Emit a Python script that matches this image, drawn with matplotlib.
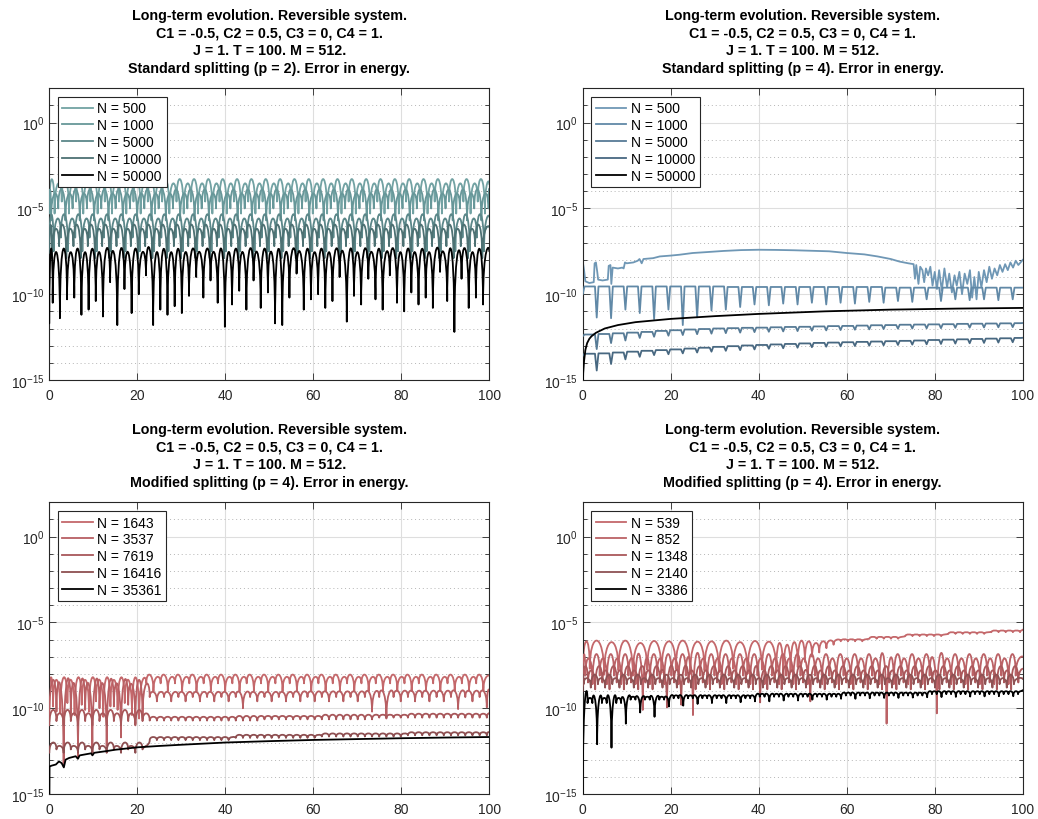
import numpy as np
import matplotlib
matplotlib.use("Agg")
import matplotlib.pyplot as plt
from matplotlib.lines import Line2D
from matplotlib.path import Path
from matplotlib.patches import PathPatch
from matplotlib.ticker import FixedLocator, FuncFormatter, NullFormatter

plt.rcParams['font.family'] = ['Liberation Sans', 'DejaVu Sans']
plt.rcParams['mathtext.default'] = 'regular'

# every level below is log10 of the energy error
PERIOD = 1.63      # basic oscillation period of the error curves
LONG = 3.26        # period of the big dips

HEAD = ('Long-term evolution. Reversible system.\n'
        'C1 = -0.5, C2 = 0.5, C3 = 0, C4 = 1.\n'
        'J = 1. T = 100. M = 512.\n')

# ---- standard splitting, p = 2 ----
p2_labels = ['N = 500', 'N = 1000', 'N = 5000', 'N = 10000', 'N = 50000']
p2_colors = ['#72a2a3', '#679799', '#5b8789', '#4d7173', '#000000']
p2_first_dip = [1.2, 0.4, 1.0, 0.6, 0.78]
p2_start = [-5.0, -5.3, -7.2, -7.6, -11.7]
p2_end = [-3.6, -4.1, -5.5, -6.1, -7.5]
p2_peak_pair = [[-3.3, -3.55], [-3.9, -4.15], [-5.35, -5.6], [-5.95, -6.2], [-7.35, -7.55]]
p2_dip_pair = [[-5.3, -4.6], [-5.7, -5.0], [-7.5, -6.7], [-7.9, -7.2]]
p2_black_dips = [-10.5, -11.4, -10.3, -10.2, -11.2, -10.9, -10.4, -11.3, -9.3, -11.8,
                 -9.7, -11.1, -10.0, -8.9, -11.8, -10.9, -11.2, -10.7, -11.1, -10.1,
                 -9.0, -10.2, -9.2, -10.5, -11.9, -10.6, -9.8, -10.9, -9.2, -10.8,
                 -9.9, -11.7, -11.8, -10.2, -8.8, -10.9, -10.3, -10.0, -10.8, -10.4,
                 -9.0, -11.6, -10.1, -10.6, -9.1, -10.3, -10.9, -8.9, -10.5, -11.0,
                 -9.9, -10.6, -10.2, -10.8, -8.7, -10.4, -12.2, -9.1, -10.8, -10.2, -10.6]

# ---- standard splitting, p = 4 ----
p4_labels = ['N = 500', 'N = 1000', 'N = 5000', 'N = 10000', 'N = 50000']
p4_colors = ['#6f97b5', '#6189a7', '#577b96', '#486881', '#000000']
n500_t = [0, 0.3, 0.6, 1.5, 2.5, 2.7, 3.0, 3.3, 3.5, 4.5, 5.7, 5.9, 6.3, 6.5, 6.8, 8.0, 9.0, 9.3,
          9.6, 10.0, 11.5, 12.5, 12.9, 13.4, 13.8, 16, 17.5, 20, 22, 25, 28, 32, 36, 40, 44, 48,
          52, 56, 60, 64, 67, 70, 72, 74, 75.2, 75.5, 75.8, 76.3, 76.7, 77.2, 77.6, 78.0, 78.5,
          79.0, 79.5, 80.0, 80.5, 81.0, 81.6, 82.2, 82.8, 83.3, 83.9, 84.5, 85.0, 85.6, 86.2,
          86.8, 87.4, 88.0, 88.5, 89.0, 89.5, 90.0, 90.6, 91.2, 91.8, 92.4, 93.0, 93.6, 94.2,
          94.8, 95.4, 96.0, 96.6, 97.2, 97.8, 98.4, 99.0, 100]
n500_v = [-8.1, -8.6, -9.25, -9.35, -9.3, -8.2, -8.15, -8.7, -9.15, -9.2, -9.15, -8.35, -8.3,
          -9.4, -8.45, -8.5, -8.45, -8.5, -8.15, -8.2, -8.15, -8.05, -7.95, -8.2, -7.95, -7.9,
          -7.8, -7.75, -7.7, -7.6, -7.55, -7.48, -7.43, -7.41, -7.42, -7.44, -7.47, -7.5, -7.6,
          -7.68, -7.8, -7.95, -8.1, -8.2, -8.25, -9.1, -8.3, -9.4, -8.4, -8.6, -9.3, -8.5, -8.9,
          -8.4, -9.5, -8.7, -9.7, -8.6, -9.8, -8.5, -9.6, -8.8, -9.9, -8.9, -9.5, -8.7, -10.0,
          -8.8, -9.4, -8.6, -10.2, -9.0, -10.3, -8.7, -9.6, -8.6, -9.3, -8.4, -9.1, -8.5, -8.9,
          -8.3, -8.7, -8.25, -8.6, -8.15, -8.45, -8.05, -8.3, -8.0]
p4_first_dip = 3.18
n1000_dips = [-11.36, -11.4, -10.9, -11.1, -11.45, -10.9, -11.8, -11.35, -10.95, -10.9,
              -10.75, -10.6, -10.65, -10.55, -10.6, -10.5, -10.6, -10.5, -10.55, -10.45,
              -10.5, -10.4, -10.45, -10.3, -10.4, -10.3, -10.35, -10.3, -10.35, -10.3]
n1000_peaks = [-9.55] * 10 + [-9.58] * 11 + [-9.62] * 10
n5000_dips = [-13.2, -12.85, -12.7, -12.55, -12.48, -12.42, -12.38, -12.33, -12.3, -12.27,
              -12.24, -12.21, -12.19, -12.17, -12.15, -12.13, -12.11, -12.09, -12.07, -12.05,
              -12.03, -12.01, -12.0, -11.99, -11.98, -11.96, -11.95, -11.94, -11.93, -11.92]
n5000_peaks = [-12.35, -12.32, -12.28, -12.24, -12.2, -12.14, -12.1, -12.06, -12.03, -12.0,
               -11.98, -11.96, -11.95, -11.93, -11.91, -11.9, -11.88, -11.86, -11.85, -11.83,
               -11.81, -11.8, -11.78, -11.77, -11.76, -11.75, -11.73, -11.72, -11.71, -11.7, -11.69]
n10000_dips = [-14.45, -14.07, -13.8, -13.65, -13.55, -13.5, -13.45, -13.4, -13.35, -13.3,
               -13.26, -13.22, -13.18, -13.15, -13.12, -13.09, -13.06, -13.04, -13.02, -13.0,
               -12.98, -12.96, -12.94, -12.92, -12.9, -12.88, -12.86, -12.84, -12.82, -12.8]
n10000_peaks = [-13.47, -13.45, -13.4, -13.35, -13.3, -13.26, -13.22, -13.17, -13.12, -13.07,
                -13.03, -12.99, -12.96, -12.93, -12.9, -12.87, -12.84, -12.82, -12.8, -12.78,
                -12.76, -12.74, -12.72, -12.7, -12.67, -12.65, -12.63, -12.61, -12.59, -12.57, -12.55]
p4_start_end = [(-10.0, -9.62), (-12.45, -11.68), (-13.6, -12.54)]
n50000_t = [0, 0.1, 0.3, 0.6, 1, 1.5, 2, 3, 5, 8, 12, 20, 30, 40, 55, 70, 85, 100]
n50000_v = [-16, -14.6, -13.9, -13.25, -12.85, -12.6, -12.45, -12.25, -12.0, -11.8, -11.63,
            -11.44, -11.28, -11.15, -11.0, -10.9, -10.84, -10.8]

# ---- modified splitting, p = 4 (left) ----
ml_labels = ['N = 1643', 'N = 3537', 'N = 7619', 'N = 16416', 'N = 35361']
ml_colors = ['#c4686b', '#b85f63', '#a8575a', '#8e4f51', '#000000']
n1643_early_dips = [-9.9, -10.3, -9.7, -10.4, -9.8, -10.2, -9.6, -10.5, -9.9, -10.1, -9.7, -10.4, -10.6]
n3537_early_dips = [-10.2, -13.4, -10.3, -12.8, -10.1, -12.6, -10.0, -12.2, -9.9, -11.7, -9.8, -10.9, -10.6]
n3537_late_spikes = {13: -10.0, 31: -10.2, 33: -10.6, 43: -10.05, 47: -9.95}
n35361_t = [0, 0.05, 0.5, 1.5, 2.2, 2.8, 3.3, 3.7, 4.5, 6.0, 6.5, 6.9, 9.5, 9.8, 10.2, 13.0,
            15, 20, 25, 30, 40, 50, 60, 70, 80, 90, 100]
n35361_v = [-16, -13.4, -13.35, -13.28, -13.1, -13.2, -13.45, -13.0, -12.9, -12.8, -12.95,
            -12.75, -12.63, -12.75, -12.6, -12.5, -12.42, -12.28, -12.2, -12.13, -12.0,
            -11.92, -11.85, -11.8, -11.75, -11.71, -11.68]

# ---- modified splitting, p = 4 (right) ----
mr_labels = ['N = 539', 'N = 852', 'N = 1348', 'N = 2140', 'N = 3386']
mr_colors = ['#c4686b', '#bb6266', '#aa585b', '#8e5254', '#000000']
n539_early_dips = [-7.7, -8.05, -7.8, -8.1, -7.75, -7.95, -7.7, -8.0, -7.8, -7.9, -7.7, -8.0, -7.75, -7.9]
n539_late_dips = ([-8.3, -7.9, -7.6, -7.3, -7.0, -6.75, -6.5, -6.3]
                  + [-6.1] * 4 + [-5.95] * 5 + [-5.8] * 6 + [-5.67] * 6 + [-5.57] * 5)
n539_peaks = ([-6.1, -6.06, -6.15, -6.06, -6.2, -6.08, -6.1, -6.06, -6.12, -6.1, -6.06, -6.15,
               -6.08, -6.12, -6.2]
              + [-6.3, -6.15, -6.06, -6.1, -6.2, -6.1, -6.05, -6.0]
              + [-5.98] * 4 + [-5.84] * 5 + [-5.7] * 6 + [-5.57] * 6 + [-5.47] * 5)
mr_first_dip = [0.6, 1.2, 0.2]
mr_peak_pair = [[-6.85, -7.1], [-7.55, -7.8], [-8.05, -8.25]]
mr_dip_pair = [[-8.1, -8.6], [-8.5, -8.9], [-8.6, -8.8]]
mr_spikes = [{8: -10.1, 15: -10.4, 42: -10.9, 49: -10.3},
             {11: -9.95, 13: -9.8, 24: -9.66, 31: -9.6}, {}]
mr_start_end = [(-8.3, -7.0), (-8.7, -7.7), (-9.0, -8.3)]
BLACK_PERIOD = 1.087
n3386_floor = [-9.7] * 3 + [-9.5] * 3 + [-9.42] * 6 + [-9.33] * 6 + [-9.26] * 6 + [-9.18] * 7
n3386_peak = [-9.4] * 3 + [-9.33] * 3 + [-9.25] * 6 + [-9.16] * 6 + [-9.09] * 6 + [-9.01] * 7
n3386_spike = [-12.1, -12.3, -10.9, -10.25, -10.5, -9.9, -9.85, -9.75, -9.7, -9.7, -9.65,
               -9.6, -9.6, -9.55, -9.55, -9.5, -9.5, -9.45, -9.45, -9.42, -9.4, -9.4, -9.38,
               -9.36, -9.35, -9.34, -9.32, -9.31, -9.3, -9.3]


def dip_times(first, period, n=None):
    if n is None:
        n = int((100.0 - first) / period) + 1
    return list(first + period * np.arange(n))


def cycle(pattern, n):
    return [pattern[i % len(pattern)] for i in range(n)]


def with_spikes(levels, spikes):
    out = list(levels)
    for i, v in spikes.items():
        out[i] = v
    return out


def hump_trace(ax, t, v, peaks, color, z, flat=False, lw=1.3):
    # one hump between every pair of neighbouring dips (t[i], v[i]) -> (t[i+1], v[i+1])
    verts = [(t[0], 10.0 ** v[0])]
    codes = [Path.MOVETO]
    for i in range(len(t) - 1):
        t0, t1, d0, d1, p = t[i], t[i + 1], v[i], v[i + 1], peaks[i]
        if flat:
            k = min(0.4, 0.3 * (t1 - t0))
            verts += [(t0 + k, 10.0 ** p), (t1 - k, 10.0 ** p), (t1, 10.0 ** d1)]
            codes += [Path.LINETO] * 3
        else:
            c = (p - 0.125 * (d0 + d1)) / 0.75
            verts += [(t0, 10.0 ** c), (t1, 10.0 ** c), (t1, 10.0 ** d1)]
            codes += [Path.CURVE4] * 3
    ax.add_patch(PathPatch(Path(verts, codes), fill=False, edgecolor=color, lw=lw,
                           joinstyle='round', capstyle='round', zorder=z))


def line_trace(ax, t, v, color, z, lw=1.3):
    ax.plot(t, 10.0 ** np.array(v), color=color, lw=lw, zorder=z)


def style_axes(ax, title, labels, colors):
    ax.set_yscale('log')
    ax.set_xlim(0, 100)
    ax.set_ylim(1e-15, 1e2)
    ax.yaxis.set_major_locator(FixedLocator([1e-15, 1e-10, 1e-5, 1e0]))
    ax.yaxis.set_minor_locator(FixedLocator([10.0 ** e for e in range(-15, 3)]))
    ax.yaxis.set_minor_formatter(NullFormatter())
    ax.yaxis.set_major_formatter(FuncFormatter(lambda val, _: r'$10^{%d}$' % round(np.log10(val))))
    ax.set_xticks([0, 20, 40, 60, 80, 100])
    ax.tick_params(which='both', direction='in', top=True, right=True, labelsize=10,
                   colors='#262626', width=0.6)
    ax.tick_params(which='major', length=5)
    ax.tick_params(which='minor', length=3)
    ax.tick_params(axis='x', pad=6)
    ax.set_axisbelow(True)
    ax.grid(True, which='major', color='#dedede', lw=0.8)
    ax.grid(True, which='minor', axis='y', color='#b5b5b5', lw=0.7, ls=(0, (1, 3)))
    for s in ax.spines.values():
        s.set_color('#262626')
        s.set_linewidth(0.8)
    ax.set_title(HEAD + title, fontsize=10.3, fontweight='bold', pad=12, linespacing=1.32)
    handles = [Line2D([], [], color=c, lw=1.3) for c in colors]
    leg = ax.legend(handles, labels, loc='upper left', fontsize=10, fancybox=False,
                    edgecolor='#262626', framealpha=1, borderaxespad=0.6, handlelength=2.2,
                    handletextpad=0.3, labelspacing=0.2, borderpad=0.35)
    leg.get_frame().set_linewidth(0.8)


fig = plt.figure(figsize=(10.38, 8.2), dpi=100)
ax_tl = fig.add_axes([0.0475, 0.5354, 0.4239, 0.3557])
ax_tr = fig.add_axes([0.5614, 0.5354, 0.4239, 0.3557])
ax_bl = fig.add_axes([0.0475, 0.0305, 0.4239, 0.3557])
ax_br = fig.add_axes([0.5614, 0.0305, 0.4239, 0.3557])

# top left: standard splitting p = 2
for i in range(5):
    td = dip_times(p2_first_dip[i], PERIOD)
    n = len(td)
    dips = cycle(p2_dip_pair[i], n) if i < 4 else p2_black_dips
    peaks = cycle(p2_peak_pair[i], n + 1)
    hump_trace(ax_tl, [0.0] + td + [100.0], [p2_start[i]] + dips + [p2_end[i]], peaks,
               p2_colors[i], z=2 + i)
style_axes(ax_tl, 'Standard splitting (p = 2). Error in energy.', p2_labels, p2_colors)

# top right: standard splitting p = 4
line_trace(ax_tr, n500_t, n500_v, p4_colors[0], z=2)
td = dip_times(p4_first_dip, LONG, 30)
for j, (dips, peaks) in enumerate([(n1000_dips, n1000_peaks), (n5000_dips, n5000_peaks),
                                   (n10000_dips, n10000_peaks)]):
    start, end = p4_start_end[j]
    hump_trace(ax_tr, [0.0] + td + [100.0], [start] + dips + [end], peaks,
               p4_colors[j + 1], z=3 + j, flat=True)
line_trace(ax_tr, n50000_t, n50000_v, p4_colors[4], z=6)
style_axes(ax_tr, 'Standard splitting (p = 4). Error in energy.', p4_labels, p4_colors)

# bottom left: modified splitting, larger N
td = dip_times(0.85, PERIOD, 61)
hump_trace(ax_bl, [0.0] + td + [100.0],
           [-9.5] + n1643_early_dips + cycle([-8.55, -9.0], 48) + [-8.1],
           cycle([-8.2, -8.35], 14) + cycle([-8.05, -8.18], 48), ml_colors[0], z=2)
td = dip_times(PERIOD, PERIOD, 61)
hump_trace(ax_bl, [0.0] + td + [100.0],
           [-10.8] + n3537_early_dips + with_spikes(cycle([-9.35, -9.6], 48), n3537_late_spikes) + [-9.0],
           cycle([-8.35, -8.6], 14) + [-9.05] * 20 + [-9.02] * 14 + [-8.98] * 14, ml_colors[1], z=3)
hump_trace(ax_bl, [0.0] + td + [100.0],
           [-11.0] + cycle([-10.75, -11.0], 13) + [-10.72] * 16 + [-10.65] * 16 + [-10.55] * 16 + [-10.3],
           cycle([-10.1, -10.3], 14) + [-10.5] * 12 + [-10.45] * 12 + [-10.38] * 12 + [-10.32] * 12,
           ml_colors[2], z=4)
hump_trace(ax_bl, [0.0] + td + [100.0],
           [-12.6] + cycle([-12.4, -12.6], 13) + [-11.86] * 12 + [-11.73] * 12 + [-11.65] * 12
           + [-11.58] * 12 + [-11.42],
           cycle([-12.0, -12.2], 14) + [-11.68] * 12 + [-11.55] * 12 + [-11.47] * 12 + [-11.4] * 12,
           ml_colors[3], z=5)
line_trace(ax_bl, n35361_t, n35361_v, ml_colors[4], z=6)
style_axes(ax_bl, 'Modified splitting (p = 4). Error in energy.', ml_labels, ml_colors)

# bottom right: modified splitting, smaller N
td = dip_times(1.6, LONG, 14) + dip_times(45.6, PERIOD, 34)
hump_trace(ax_br, [0.0] + td + [100.0], [-8.0] + n539_early_dips + n539_late_dips + [-5.42],
           n539_peaks, mr_colors[0], z=2)
for j in range(3):
    td = dip_times(mr_first_dip[j], PERIOD, 61)
    start, end = mr_start_end[j]
    dips = with_spikes(cycle(mr_dip_pair[j], 61), mr_spikes[j])
    hump_trace(ax_br, [0.0] + td + [100.0], [start] + dips + [end],
               cycle(mr_peak_pair[j], 62), mr_colors[j + 1], z=3 + j)
td = dip_times(1.1, BLACK_PERIOD, 91)
dips = [n3386_spike[k // 3] if k % 3 == 2 else n3386_floor[k // 3] for k in range(91)]
peaks = [n3386_peak[min(h // 3, 30)] for h in range(92)]
hump_trace(ax_br, [0.0] + td + [100.0], [-15.5] + dips + [-8.95], peaks, mr_colors[4], z=6)
style_axes(ax_br, 'Modified splitting (p = 4). Error in energy.', mr_labels, mr_colors)

fig.savefig('out.png', dpi=100)
